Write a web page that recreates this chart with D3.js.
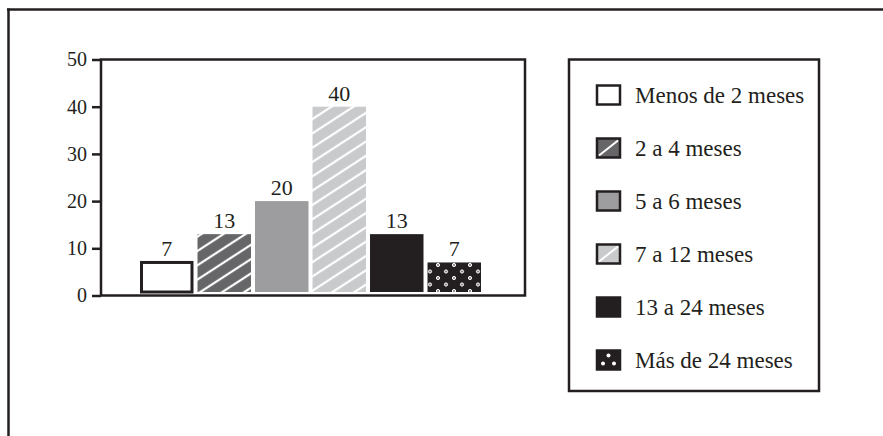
<!DOCTYPE html>
<html>
<head>
<meta charset="utf-8">
<script src="https://cdn.jsdelivr.net/npm/d3@7"></script>
<style>
  body { margin: 0; background: #fff; }
  svg { display: block; }
  svg text { font-family: "Liberation Serif", "DejaVu Serif", serif !important; fill: #231f20; }
</style>
</head>
<body>
<div id="chart"></div>
<script>
// data
const categories = ['Menos de 2 meses', '2 a 4 meses', '5 a 6 meses', '7 a 12 meses', '13 a 24 meses', 'Más de 24 meses'];
const values = [7, 13, 20, 40, 13, 7];
const yTicks = [0, 10, 20, 30, 40, 50];
const fills = ['#fff', 'url(#stripeDark)', '#9d9d9f', 'url(#stripeLight)', '#231f20', 'url(#dots)'];
const swatchFills = ['#fff', '#666668', '#9d9d9f', '#c9cacc', '#231f20', '#231f20'];

const W = 883, H = 436;
const ink = '#231f20';

const svg = d3.select('#chart').append('svg')
    .attr('width', W)
    .attr('height', H);

// patterns
const defs = svg.append('defs');
function stripes(id, bg) {
    const s = 12;
    const p = defs.append('pattern')
        .attr('id', id)
        .attr('patternUnits', 'userSpaceOnUse')
        .attr('width', s).attr('height', s)
        .attr('patternTransform', 'rotate(-33)');
    p.append('rect').attr('width', s).attr('height', s).attr('fill', bg);
    p.append('line').attr('x1', 0).attr('x2', s).attr('y1', s / 2).attr('y2', s / 2)
        .attr('stroke', '#fff').attr('stroke-width', 2.2);
}
stripes('stripeDark', '#666668');
stripes('stripeLight', '#c9cacc');

const dp = defs.append('pattern')
    .attr('id', 'dots')
    .attr('patternUnits', 'userSpaceOnUse')
    .attr('x', 3).attr('y', 2)
    .attr('width', 16).attr('height', 13);
dp.append('rect').attr('width', 16).attr('height', 13).attr('fill', ink);
[[3, 3], [11, 9.5]].forEach(([cx, cy]) => {
    dp.append('circle').attr('cx', cx).attr('cy', cy).attr('r', 1.6)
        .attr('fill', '#888').attr('stroke', '#fff').attr('stroke-width', 1);
});

// outer frame, only top and left are in the picture
svg.append('line').attr('x1', 7).attr('x2', W).attr('y1', 9.5).attr('y2', 9.5)
    .attr('stroke', ink).attr('stroke-width', 2.5);
svg.append('line').attr('x1', 8.5).attr('x2', 8.5).attr('y1', 8.5).attr('y2', H)
    .attr('stroke', ink).attr('stroke-width', 2.5);

// scales
const plot = { left: 101, right: 525, top: 59.5, bottom: 295.5 };
const x = d3.scaleBand()
    .domain(categories)
    .range([140, 481])
    .paddingInner(0.07)
    .paddingOuter(0);
const y = d3.scaleLinear().domain([0, 50]).range([plot.bottom, plot.top]);

// bars
const bars = svg.append('g');
bars.selectAll('rect')
    .data(values)
    .join('rect')
    .attr('x', (d, i) => x(categories[i]) + (i === 0 ? 1.5 : 0))
    .attr('y', d => y(d))
    .attr('width', (d, i) => x.bandwidth() - (i === 0 ? 3 : 0))
    .attr('height', d => y(0) - y(d) - 3.5)
    .attr('fill', (d, i) => fills[i])
    .attr('stroke', (d, i) => i === 0 ? ink : 'none')
    .attr('stroke-width', 3);

bars.selectAll('text')
    .data(values)
    .join('text')
    .attr('x', (d, i) => x(categories[i]) + x.bandwidth() / 2)
    .attr('y', d => y(d) - 6)
    .attr('text-anchor', 'middle')
    .attr('font-size', 22)
    .text(d => d);

// plot box
svg.append('rect')
    .attr('x', plot.left).attr('y', plot.top)
    .attr('width', plot.right - plot.left).attr('height', plot.bottom - plot.top)
    .attr('fill', 'none').attr('stroke', ink).attr('stroke-width', 2.5);

// y axis
const yAxis = svg.append('g')
    .attr('transform', `translate(${plot.left},0)`)
    .call(d3.axisLeft(y).tickValues(yTicks).tickSize(9).tickPadding(5));
yAxis.select('.domain').remove();
yAxis.selectAll('.tick line').attr('stroke', ink).attr('stroke-width', 2.5);
yAxis.selectAll('.tick text')
    .attr('font-size', 20)
    .attr('fill', ink);

// legend
const lg = svg.append('g');
lg.append('rect')
    .attr('x', 569).attr('y', 59.5).attr('width', 250).attr('height', 331.5)
    .attr('fill', 'none').attr('stroke', ink).attr('stroke-width', 2.5);

const item = lg.selectAll('g.item')
    .data(categories)
    .join('g')
    .attr('class', 'item')
    .attr('transform', (d, i) => `translate(597,${85.5 + i * 53})`);

item.append('rect')
    .attr('width', 23).attr('height', 19)
    .attr('fill', (d, i) => swatchFills[i])
    .attr('stroke', ink).attr('stroke-width', 2.5);

item.filter((d, i) => i === 1 || i === 3)
    .append('line')
    .attr('x1', 2).attr('y1', 17).attr('x2', 21).attr('y2', 2)
    .attr('stroke', '#fff').attr('stroke-width', 2);

item.filter((d, i) => i === 5)
    .selectAll('circle')
    .data([[11.5, 5], [6, 13], [17, 13]])
    .join('circle')
    .attr('cx', d => d[0]).attr('cy', d => d[1]).attr('r', 2)
    .attr('fill', '#fff');

item.append('text')
    .attr('x', 38).attr('y', 17.5)
    .attr('font-size', 23)
    .text(d => d);
</script>
</body>
</html>
